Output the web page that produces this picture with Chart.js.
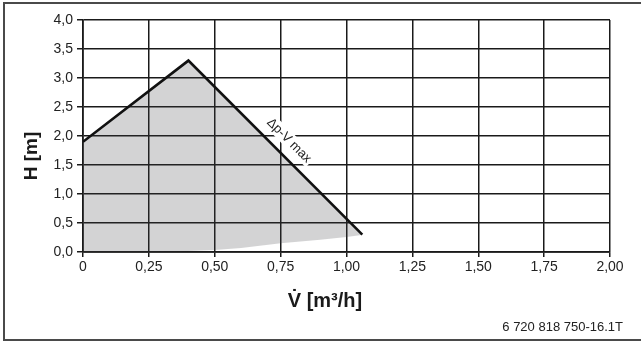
<!DOCTYPE html>
<html>
<head>
<meta charset="utf-8">
<script src="https://cdn.jsdelivr.net/npm/chart.js@4/dist/chart.umd.min.js"></script>
<style>
  html, body { margin: 0; padding: 0; background: #fff; }
  #wrap { width: 641px; height: 343px; position: relative; }
</style>
</head>
<body>
<div id="wrap"><canvas id="c" width="641" height="343"></canvas></div>
<script>
// ---- data ----
const xTicks = [0, 0.25, 0.5, 0.75, 1.0, 1.25, 1.5, 1.75, 2.0];
const yTicks = [0, 0.5, 1.0, 1.5, 2.0, 2.5, 3.0, 3.5, 4.0];
const maxCurveQ = [0, 0.40, 1.06];
const maxCurveH = [1.9, 3.3, 0.3];
const lowerBoundQ = [1.05, 1.0, 0.9, 0.75, 0.6, 0.5, 0.35, 0.2, 0];
const lowerBoundH = [0.29, 0.26, 0.21, 0.15, 0.07, 0.035, 0.01, 0.0, 0];
const curveLabel = 'Δp-V max';
const xTitle = 'V̇ [m³/h]';
const yTitle = 'H [m]';
const footnote = '6 720 818 750-16.1T';

const FONT = '"Liberation Sans", Arial, Helvetica, sans-serif';

const maxCurve = maxCurveQ.map((q, i) => ({ x: q, y: maxCurveH[i] }));
const areaShape = maxCurve.concat(lowerBoundQ.map((q, i) => ({ x: q, y: lowerBoundH[i] })));

const fmt = (v, d) => (v === 0 && d === 2) ? '0' : v.toFixed(d).replace('.', ',');

const decor = {
  id: 'decor',
  beforeDraw(chart) {
    const ctx = chart.ctx;
    ctx.save();
    ctx.strokeStyle = '#4a4a4a';
    ctx.lineWidth = 2;
    ctx.strokeRect(4, 3, 660, 337);
    ctx.restore();
  },
  afterDatasetsDraw(chart) {
    const ctx = chart.ctx;
    const xs = chart.scales.x, ys = chart.scales.y;
    const p1 = { x: xs.getPixelForValue(maxCurveQ[1]), y: ys.getPixelForValue(maxCurveH[1]) };
    const p2 = { x: xs.getPixelForValue(maxCurveQ[2]), y: ys.getPixelForValue(maxCurveH[2]) };
    const ang = Math.atan2(p2.y - p1.y, p2.x - p1.x);
    const cx = xs.getPixelForValue(0.782), cy = ys.getPixelForValue(1.92);
    ctx.save();
    ctx.translate(cx, cy);
    ctx.rotate(ang);
    ctx.font = '13px ' + FONT;
    const w = ctx.measureText(curveLabel).width;
    ctx.fillStyle = '#fff';
    ctx.fillRect(-w / 2 - 2, -8, w + 4, 15);
    ctx.fillStyle = '#222';
    ctx.textAlign = 'center';
    ctx.textBaseline = 'middle';
    ctx.fillText(curveLabel, 0, 0);
    ctx.restore();
  },
  afterDraw(chart) {
    const ctx = chart.ctx;
    ctx.save();
    ctx.fillStyle = '#1a1a1a';
    ctx.font = 'bold 20px ' + FONT;
    ctx.textAlign = 'center';
    ctx.textBaseline = 'alphabetic';
    ctx.fillText(xTitle, 325, 307);
    ctx.font = 'bold 19px ' + FONT;
    ctx.save();
    ctx.translate(37, 156);
    ctx.rotate(-Math.PI / 2);
    ctx.fillText(yTitle, 0, 0);
    ctx.restore();
    ctx.font = '13px ' + FONT;
    ctx.fillStyle = '#222';
    ctx.textAlign = 'right';
    ctx.fillText(footnote, 623, 331);
    ctx.restore();
  }
};

new Chart(document.getElementById('c'), {
  type: 'scatter',
  data: {
    datasets: [
      {
        data: areaShape,
        showLine: true,
        borderWidth: 0,
        borderColor: 'rgba(0,0,0,0)',
        pointRadius: 0,
        fill: 'shape',
        backgroundColor: 'rgba(60,62,66,0.226)',
        tension: 0,
        order: 2
      },
      {
        data: maxCurve,
        showLine: true,
        borderColor: '#111',
        borderWidth: 2.6,
        pointRadius: 0,
        fill: false,
        tension: 0,
        order: 1
      }
    ]
  },
  options: {
    responsive: false,
    animation: false,
    devicePixelRatio: 1,
    layout: { padding: { left: 0, right: 31, top: 20, bottom: 0 } },
    plugins: { legend: { display: false }, tooltip: { enabled: false } },
    scales: {
      x: {
        type: 'linear', min: 0, max: 2,
        afterBuildTicks(s) { s.ticks = xTicks.map(v => ({ value: v })); },
        afterFit(s) { s.height = 91; },
        ticks: {
          callback: v => fmt(v, 2),
          font: { family: FONT, size: 14 },
          color: '#222',
          padding: 2,
          maxRotation: 0
        },
        grid: { color: '#1a1a1a', lineWidth: 1.5, tickLength: 5, tickColor: '#1a1a1a' },
        border: { color: '#1a1a1a', width: 1.7 }
      },
      y: {
        type: 'linear', min: 0, max: 4,
        afterBuildTicks(s) { s.ticks = yTicks.map(v => ({ value: v })); },
        afterFit(s) { s.width = 83; },
        ticks: {
          callback: v => fmt(v, 1),
          font: { family: FONT, size: 14 },
          color: '#222',
          padding: 4
        },
        grid: { color: '#1a1a1a', lineWidth: 1.5, tickLength: 6, tickColor: '#1a1a1a' },
        border: { color: '#1a1a1a', width: 1.7 }
      }
    }
  },
  plugins: [decor]
});
</script>
</body>
</html>
